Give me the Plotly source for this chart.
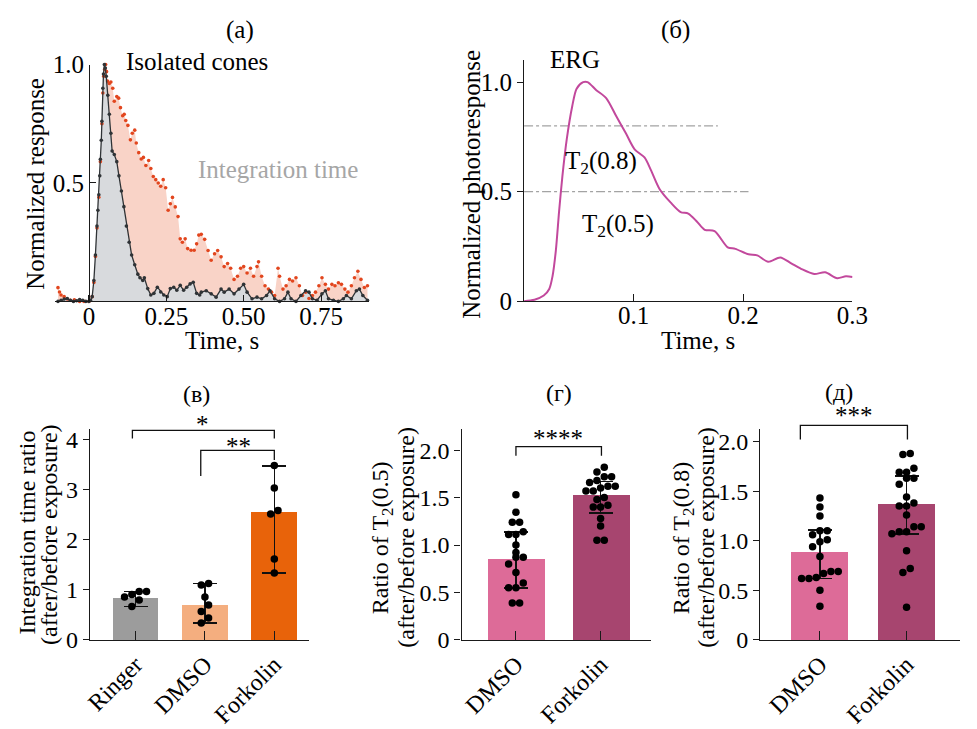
import plotly.graph_objects as go

W, H = 977, 729
FONT = "Liberation Serif"
FS_TOP = 25
FS_BOT = 24

# ---------------- data: panel (а) isolated cones ----------------
t_dark = [-0.10, -0.09, -0.08, -0.07, -0.06, -0.05, -0.04, -0.03, -0.02, -0.01, 0.0, 0.005,
          0.0105, 0.016, 0.021, 0.026, 0.029, 0.032, 0.035, 0.037, 0.040, 0.042, 0.045, 0.047,
          0.050, 0.053, 0.056, 0.061, 0.066, 0.071, 0.075, 0.082, 0.090, 0.097, 0.105, 0.113,
          0.121, 0.130, 0.138, 0.148, 0.158, 0.165, 0.174, 0.179, 0.190, 0.200, 0.210, 0.221,
          0.232, 0.242, 0.253, 0.263, 0.274, 0.284, 0.295, 0.306, 0.316, 0.327, 0.337, 0.348,
          0.358, 0.363, 0.379, 0.395, 0.411, 0.427, 0.437, 0.453, 0.469, 0.485, 0.500, 0.511,
          0.527, 0.543, 0.558, 0.574, 0.585, 0.600, 0.616, 0.632, 0.643, 0.653, 0.669, 0.685,
          0.700, 0.711, 0.722, 0.737, 0.753, 0.764, 0.774, 0.790, 0.806, 0.822, 0.832, 0.848,
          0.864, 0.874, 0.885, 0.900]
v_dark = [0.0, 0.005, 0.01, 0.012, 0.005, 0.0, 0.003, 0.008, 0.005, 0.0, 0.0, 0.005,
          0.02, 0.088, 0.196, 0.318, 0.385, 0.45, 0.53, 0.60, 0.68, 0.76, 0.90, 0.96,
          1.0, 0.985, 0.95, 0.87, 0.79, 0.71, 0.635, 0.62, 0.59, 0.53, 0.466, 0.40,
          0.318, 0.25, 0.196, 0.155, 0.115, 0.10, 0.088, 0.10, 0.054, 0.027, 0.034, 0.06,
          0.04, 0.027, 0.02, 0.054, 0.06, 0.047, 0.068, 0.047, 0.06, 0.074, 0.081, 0.034,
          0.027, 0.039, 0.045, 0.032, 0.018, 0.052, 0.039, 0.052, 0.032, 0.052, 0.072, 0.039,
          0.011, 0.018, 0.011, 0.025, 0.045, 0.011, 0.0, 0.011, 0.039, 0.011, 0.0, 0.025,
          0.045, 0.039, 0.011, 0.005, 0.032, 0.045, 0.011, 0.005, 0.0, 0.011, 0.025, 0.011,
          0.045, 0.052, 0.025, 0.005]

t_red = [-0.10, -0.095, -0.09, -0.08, -0.07, -0.06, -0.047, -0.03, -0.016, 0.0,
         0.0105, 0.016, 0.021, 0.026, 0.032, 0.037, 0.042, 0.045, 0.048, 0.051, 0.054, 0.057,
         0.060, 0.066, 0.071, 0.077, 0.082, 0.090, 0.096, 0.102, 0.109, 0.114, 0.119, 0.126,
         0.134, 0.140, 0.148, 0.153, 0.161, 0.169, 0.176, 0.184, 0.193, 0.200, 0.208, 0.216,
         0.224, 0.232, 0.240, 0.248, 0.256, 0.263, 0.270, 0.279, 0.288, 0.295, 0.302, 0.311,
         0.319, 0.330, 0.340, 0.348, 0.355, 0.363, 0.374, 0.385, 0.395, 0.406, 0.416, 0.427,
         0.437, 0.448, 0.458, 0.469, 0.480, 0.490, 0.500, 0.511, 0.522, 0.532, 0.543, 0.548,
         0.558, 0.569, 0.580, 0.590, 0.600, 0.611, 0.616, 0.627, 0.637, 0.648, 0.658, 0.669,
         0.680, 0.690, 0.700, 0.711, 0.722, 0.732, 0.743, 0.753, 0.764, 0.774, 0.785, 0.795,
         0.806, 0.816, 0.827, 0.837, 0.848, 0.858, 0.869, 0.879, 0.890, 0.900]
v_red = [0.058, 0.04, 0.027, 0.02, 0.01, 0.005, 0.007, 0.0, 0.0, 0.0,
         0.02, 0.08, 0.19, 0.31, 0.44, 0.59, 0.75, 0.88, 0.95, 0.98, 1.0, 0.97,
         0.93, 0.92, 0.926, 0.90, 0.845, 0.865, 0.858, 0.818, 0.784, 0.79, 0.764, 0.743,
         0.682, 0.71, 0.723, 0.669, 0.628, 0.601, 0.608, 0.574, 0.595, 0.561, 0.527, 0.514,
         0.50, 0.486, 0.514, 0.48, 0.385, 0.412, 0.439, 0.399, 0.358, 0.264, 0.25, 0.264,
         0.223, 0.216, 0.216, 0.243, 0.28, 0.283, 0.262, 0.215, 0.174, 0.201, 0.215, 0.188,
         0.147, 0.16, 0.14, 0.093, 0.106, 0.14, 0.147, 0.12, 0.14, 0.106, 0.147, 0.167,
         0.106, 0.066, 0.052, 0.039, 0.025, 0.14, 0.106, 0.052, 0.066, 0.093, 0.086, 0.10,
         0.066, 0.025, 0.039, 0.012, 0.025, 0.039, 0.066, 0.10, 0.072, 0.052, 0.072, 0.066,
         0.079, 0.072, 0.052, 0.039, 0.066, 0.10, 0.127, 0.093, 0.059, 0.066]

# ---------------- data: panel (б) ERG ----------------
t_erg = [0.0, 0.0095, 0.018, 0.023, 0.026, 0.029, 0.032, 0.035, 0.039, 0.044, 0.048, 0.054,
         0.058, 0.066, 0.075, 0.084, 0.093, 0.101, 0.110, 0.116, 0.124, 0.134, 0.143, 0.150,
         0.158, 0.165, 0.174, 0.186, 0.193, 0.205, 0.213, 0.223, 0.234, 0.244, 0.253, 0.265,
         0.275, 0.286, 0.294, 0.300]
v_erg = [0.0, 0.007, 0.026, 0.056, 0.114, 0.23, 0.41, 0.57, 0.74, 0.89, 0.97, 1.0,
         1.0, 0.963, 0.927, 0.846, 0.766, 0.693, 0.656, 0.597, 0.51, 0.45, 0.407, 0.40,
         0.363, 0.326, 0.32, 0.246, 0.239, 0.214, 0.209, 0.18, 0.20, 0.173, 0.148, 0.124,
         0.132, 0.105, 0.114, 0.111]
thr_levels = [0.8, 0.5]
thr_ends = [0.177, 0.205]

# ---------------- data: panel (в) ----------------
cats_v = ["Ringer", "DMSO", "Forkolin"]
mean_v = [0.85, 0.71, 2.56]
lo_v = [0.67, 0.34, 1.34]
hi_v = [0.97, 1.13, 3.48]
pts_v = [[0.97, 0.97, 0.91, 0.86, 0.80, 0.67],
         [1.13, 1.10, 0.86, 0.70, 0.57, 0.44, 0.34],
         [3.49, 3.04, 2.59, 2.52, 1.62, 1.34]]

# ---------------- data: panel (г) ----------------
cats_g = ["DMSO", "Forkolin"]
mean_g = [0.86, 1.53]
lo_g = [0.55, 1.34]
hi_g = [1.14, 1.67]
pts_g = [[1.53, 1.345, 1.24, 1.24, 1.14, 1.11, 1.11, 1.0, 0.92, 0.87, 0.87, 0.80, 0.71,
          0.60, 0.55, 0.55, 0.39, 0.39],
         [1.82, 1.77, 1.72, 1.72, 1.68, 1.66, 1.62, 1.62, 1.60, 1.57, 1.57, 1.50, 1.48,
          1.42, 1.40, 1.40, 1.28, 1.20, 1.05, 1.05]]

# ---------------- data: panel (д) ----------------
cats_d = ["DMSO", "Forkolin"]
mean_d = [0.888, 1.376]
lo_d = [0.62, 1.07]
hi_d = [1.106, 1.655]
pts_d = [[1.43, 1.34, 1.25, 1.10, 1.10, 1.06, 1.01, 0.99, 0.94, 0.84, 0.69, 0.69, 0.67,
          0.63, 0.62, 0.62, 0.50, 0.34],
         [1.88, 1.87, 1.73, 1.69, 1.69, 1.63, 1.63, 1.57, 1.44, 1.38, 1.35, 1.35, 1.26,
          1.14, 1.14, 1.09, 1.09, 1.07, 0.90, 0.72, 0.68, 0.33]]

# ---------------- layout geometry (pixels) ----------------
AX = {
    "a": dict(x=(50, 371.7), y=(53.5, 299.5), xr=(-0.11, 0.906), yr=(0, 1.0)),
    "b": dict(x=(530, 866), y=(48.3, 299.3), xr=(0, 0.3), yr=(0, 1.103)),
    "c": dict(x=(86, 310), y=(431.7, 651), xr=(-0.655, 2.5), yr=(0, 4.225)),
    "d": dict(x=(466, 660), y=(431.7, 651), xr=(-0.643, 1.597), yr=(0, 2.226)),
    "e": dict(x=(771.7, 976), y=(431.7, 651), xr=(-0.688, 1.617), yr=(0, 2.13)),
}


def xdom(k):
    a, b = AX[k]["x"]
    return [a / W, b / W]


def ydom(k):
    t, b = AX[k]["y"]
    return [1 - b / H, 1 - t / H]


def to_px(k, xv, yv):
    g = AX[k]
    x0, x1 = g["x"]; xr0, xr1 = g["xr"]
    yt, yb = g["y"]; yr0, yr1 = g["yr"]
    px = x0 + (xv - xr0) / (xr1 - xr0) * (x1 - x0)
    py = yb - (yv - yr0) / (yr1 - yr0) * (yb - yt)
    return px, py


def ppu(k):
    g = AX[k]
    return ((g["x"][1] - g["x"][0]) / (g["xr"][1] - g["xr"][0]),
            (g["y"][1] - g["y"][0]) / (g["yr"][1] - g["yr"][0]))


def swarm(vals, k, d=7.5):
    xp, yp = ppu(k)
    idx = sorted(range(len(vals)), key=lambda i: vals[i])
    offs = [0.0] * len(vals)
    groups = []
    for i in idx:
        if groups and (vals[i] - vals[groups[-1][0]]) * yp < d:
            groups[-1].append(i)
        else:
            groups.append([i])
    for g in groups:
        n = len(g)
        for j, i in enumerate(g):
            offs[i] = (j - (n - 1) / 2) * d / xp
    return offs


fig = go.Figure()
shapes = []
anns = []

AXID = {"a": ("x", "y"), "b": ("x2", "y2"), "c": ("x3", "y3"), "d": ("x4", "y4"), "e": ("x5", "y5")}

# ---- panel (а)
xa, ya = AXID["a"]
fig.add_trace(go.Scatter(x=t_red, y=v_red, mode="none", fill="tozeroy",
                         fillcolor="#f9d3c7", xaxis=xa, yaxis=ya, hoverinfo="skip"))
fig.add_trace(go.Scatter(x=t_dark, y=v_dark, mode="none", fill="tozeroy",
                         fillcolor="#d8dadd", xaxis=xa, yaxis=ya, hoverinfo="skip"))
fig.add_trace(go.Scatter(x=t_red, y=v_red, mode="markers", cliponaxis=False,
                         marker=dict(size=3.6, color="#e2461e"), xaxis=xa, yaxis=ya))
fig.add_trace(go.Scatter(x=t_dark, y=v_dark, mode="lines+markers", cliponaxis=False,
                         line=dict(color="#2f3336", width=1.3),
                         marker=dict(size=3.6, color="#2f3336"), xaxis=xa, yaxis=ya))

# ---- panel (б)
xb, yb = AXID["b"]
for lv, le in zip(thr_levels, thr_ends):
    fig.add_trace(go.Scatter(x=[0, le], y=[lv, lv], mode="lines",
                             line=dict(color="#a3a3a3", width=1.3, dash="dashdot"),
                             xaxis=xb, yaxis=yb))
fig.add_trace(go.Scatter(x=t_erg, y=v_erg, mode="lines",
                         line=dict(color="#c2489c", width=2, shape="spline", smoothing=0.8),
                         xaxis=xb, yaxis=yb))


# ---- bar panels
def bar_panel(k, cats, means, lo, hi, pts, colors, width):
    xk, yk = AXID[k]
    xs = list(range(len(cats)))
    fig.add_trace(go.Bar(x=xs, y=means, width=width, marker=dict(color=colors, line=dict(width=0)),
                         error_y=dict(type="data", symmetric=False,
                                      array=[h - m for h, m in zip(hi, means)],
                                      arrayminus=[m - l for l, m in zip(lo, means)],
                                      color="#111111", thickness=1.6, width=12),
                         xaxis=xk, yaxis=yk))
    for i, vals in enumerate(pts):
        offs = swarm(vals, k)
        fig.add_trace(go.Scatter(x=[i + o for o in offs], y=vals, mode="markers",
                                 cliponaxis=False,
                                 marker=dict(size=7.5, color="#000000"),
                                 xaxis=xk, yaxis=yk))


bar_panel("c", cats_v, mean_v, lo_v, hi_v, pts_v, ["#9c9c9c", "#f4ae7f", "#e8630a"], 0.66)
bar_panel("d", cats_g, mean_g, lo_g, hi_g, pts_g, ["#dd6b98", "#a7456f"], 0.675)
bar_panel("e", cats_d, mean_d, lo_d, hi_d, pts_d, ["#dd6b98", "#a7456f"], 0.662)


def bracket(k, x1, x2, ytop, yl, yr, text, tx, ty):
    p1 = to_px(k, x1, yl)
    p2 = to_px(k, x1, ytop)
    p3 = to_px(k, x2, ytop)
    p4 = to_px(k, x2, yr)
    path = "M {} {} L {} {} L {} {} L {} {}".format(
        p1[0] / W, 1 - p1[1] / H, p2[0] / W, 1 - p2[1] / H,
        p3[0] / W, 1 - p3[1] / H, p4[0] / W, 1 - p4[1] / H)
    shapes.append(dict(type="path", path=path, xref="paper", yref="paper",
                       line=dict(color="#111111", width=1.3)))
    q = to_px(k, tx, ty)
    anns.append(dict(x=q[0] / W, y=1 - q[1] / H, xref="paper", yref="paper", text=text,
                     showarrow=False, font=dict(family=FONT, size=FS_BOT + 1, color="black"),
                     xanchor="center", yanchor="middle", yshift=-6))


bracket("c", -0.045, 2.0, 4.19, 4.03, 4.03, "*", 0.97, 4.42)
bracket("c", 0.94, 2.0, 3.79, 3.28, 3.60, "**", 1.48, 3.99)
bracket("d", 0.0, 1.01, 2.037, 1.94, 1.94, "****", 0.5, 2.19)
bracket("e", -0.226, 1.01, 2.163, 2.02, 2.02, "***", 0.39, 2.32)


def text_px(x, y, text, color="black", angle=0, size=FS_TOP):
    anns.append(dict(x=x / W, y=1 - y / H, xref="paper", yref="paper", text=text,
                     showarrow=False, textangle=angle,
                     font=dict(family=FONT, size=size, color=color),
                     xanchor="center", yanchor="middle"))


text_px(239, 18, "(а)")
text_px(685, 18, "(б)")
text_px(195, 396, "(в)", size=FS_BOT)
text_px(566, 395, "(г)", size=FS_BOT)
text_px(852, 394, "(д)", size=FS_BOT)
text_px(195, 50, "Isolated cones")
text_px(278, 162, "Integration time", color="#a6a6a6")
text_px(582, 48, "ERG")
text_px(609, 155, "T<sub>2</sub>(0.8)")
text_px(626, 221, "T<sub>2</sub>(0.5)")
text_px(221, 340, "Time, s")
text_px(708, 340, "Time, s")
text_px(30, 177, "Normalized response", angle=-90)
text_px(476, 178, "Normalized photoresponse", angle=-90)
text_px(21, 540, "Integration time ratio", angle=-90, size=FS_BOT)
text_px(44, 542, "(after/before exposure)", angle=-90, size=FS_BOT)
text_px(384, 545, "Ratio of T<sub>2</sub>(0.5)", angle=-90, size=FS_BOT)
text_px(409, 544, "(after/before exposure)", angle=-90, size=FS_BOT)
text_px(692, 545, "Ratio of T<sub>2</sub>(0.8)", angle=-90, size=FS_BOT)
text_px(716, 544, "(after/before exposure)", angle=-90, size=FS_BOT)

LINE = dict(showline=True, linecolor="#1a1a1a", linewidth=1.3, showgrid=False,
            zeroline=False, tickcolor="#1a1a1a", tickwidth=1.3)
TF_TOP = dict(tickfont=dict(family=FONT, size=FS_TOP, color="black"))
TF_BOT = dict(tickfont=dict(family=FONT, size=FS_BOT, color="black"))

layout = dict(
    width=W, height=H, margin=dict(l=0, r=0, t=0, b=0),
    paper_bgcolor="white", plot_bgcolor="rgba(0,0,0,0)", showlegend=False,
    font=dict(family=FONT, size=FS_TOP, color="black"),
    shapes=shapes, annotations=anns, bargap=0,
    xaxis=dict(domain=xdom("a"), range=list(AX["a"]["xr"]), anchor="y",
               tickvals=[0, 0.25, 0.5, 0.75], ticktext=["0", "0.25", "0.50", "0.75"],
               ticks="inside", ticklen=6, ticklabelstandoff=-8, **LINE, **TF_TOP),
    yaxis=dict(domain=ydom("a"), range=list(AX["a"]["yr"]), anchor="free",
               position=85 / W, tickvals=[0.5, 1.0], ticktext=["0.5", "1.0"],
               ticks="inside", ticklen=6, **LINE, **TF_TOP),
    xaxis2=dict(domain=xdom("b"), range=list(AX["b"]["xr"]), anchor="y2",
                tickvals=[0.1, 0.2, 0.3], ticktext=["0.1", "0.2", "0.3"],
                ticks="inside", ticklen=7, ticklabelstandoff=-8, **LINE, **TF_TOP),
    yaxis2=dict(domain=ydom("b"), range=list(AX["b"]["yr"]), anchor="x2",
                tickvals=[0, 0.5, 1.0], ticktext=["0", "0.5", "1.0"],
                ticks="outside", ticklen=6, **LINE, **TF_TOP),
    xaxis3=dict(domain=xdom("c"), range=list(AX["c"]["xr"]), anchor="y3",
                tickvals=[0, 1, 2], ticktext=cats_v, tickangle=-45,
                ticks="inside", ticklen=9, **LINE, **TF_BOT),
    yaxis3=dict(domain=ydom("c"), range=list(AX["c"]["yr"]), anchor="x3",
                tickvals=[0, 1, 2, 3, 4], ticktext=["0", "1", "2", "3", "4"],
                ticks="outside", ticklen=6, **LINE, **TF_BOT),
    xaxis4=dict(domain=xdom("d"), range=list(AX["d"]["xr"]), anchor="y4",
                tickvals=[0, 1], ticktext=cats_g, tickangle=-45,
                ticks="inside", ticklen=9, **LINE, **TF_BOT),
    yaxis4=dict(domain=ydom("d"), range=list(AX["d"]["yr"]), anchor="x4",
                tickvals=[0, 0.5, 1.0, 1.5, 2.0], ticktext=["0", "0.5", "1.0", "1.5", "2.0"],
                ticks="outside", ticklen=6, **LINE, **TF_BOT),
    xaxis5=dict(domain=xdom("e"), range=list(AX["e"]["xr"]), anchor="y5",
                tickvals=[0, 1], ticktext=cats_d, tickangle=-45,
                ticks="inside", ticklen=9, **LINE, **TF_BOT),
    yaxis5=dict(domain=ydom("e"), range=list(AX["e"]["yr"]), anchor="x5",
                tickvals=[0, 0.5, 1.0, 1.5, 2.0], ticktext=["0", "0.5", "1.0", "1.5", "2.0"],
                ticks="outside", ticklen=6, **LINE, **TF_BOT),
)
fig.update_layout(**layout)
fig.write_html("out.html")
